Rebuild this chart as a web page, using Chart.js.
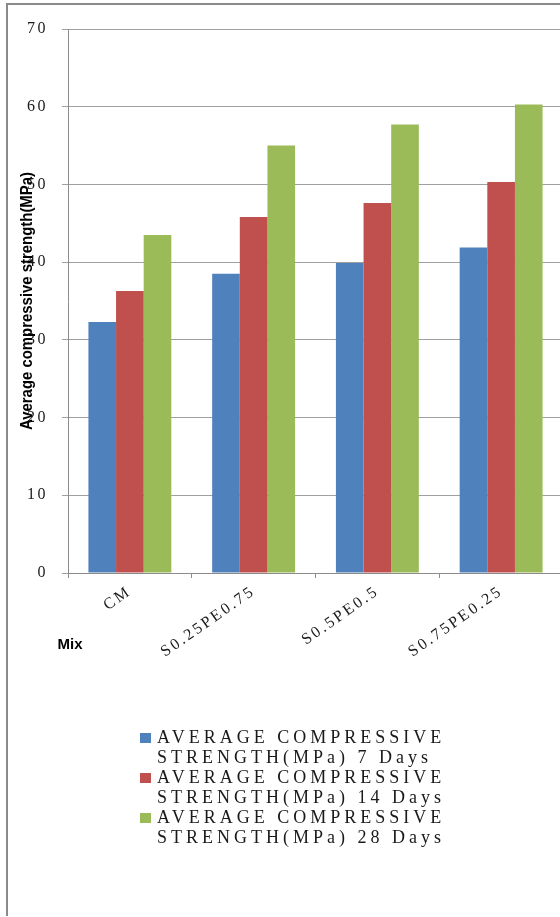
<!DOCTYPE html>
<html>
<head>
<meta charset="utf-8">
<script src="https://cdn.jsdelivr.net/npm/chart.js@4.4.0/dist/chart.umd.min.js"></script>
<style>
  html, body { margin: 0; padding: 0; background: #fff; overflow: hidden; }
  #wrap { width: 560px; height: 917px; overflow: hidden; }
  canvas { display: block; }
</style>
</head>
<body>
<div id="wrap"><canvas id="myChart" width="566" height="917"></canvas></div>
<script>
// Mixes on the x axis
const mixes = ["CM", "S0.25PE0.75", "S0.5PE0.5", "S0.75PE0.25"];

// Average compressive strength (MPa)
const strength7 = [32.3, 38.5, 39.9, 41.9];
const strength14 = [36.3, 45.8, 47.6, 50.3];
const strength28 = [43.5, 55.0, 57.7, 60.3];

const seriesLabels = [
  "AVERAGE COMPRESSIVE STRENGTH(MPa) 7 Days",
  "AVERAGE COMPRESSIVE STRENGTH(MPa) 14 Days",
  "AVERAGE COMPRESSIVE STRENGTH(MPa) 28 Days",
];
const seriesColors = ["#4F81BD", "#C0504D", "#9BBB59"];

const yTitle = "Average compressive strength(MPa)";
const xTitle = "Mix";

const serif = "'Liberation Serif', 'Times New Roman', serif";
const sans = "'Liberation Sans', Arial, sans-serif";

// frame, axis titles and the wrapped legend
const extras = {
  id: "extras",
  beforeUpdate(chart) {
    chart.ctx.letterSpacing = "2.5px";
  },
  beforeDraw(chart) {
    const ctx = chart.ctx;
    ctx.save();
    ctx.fillStyle = "#fff";
    ctx.fillRect(0, 0, chart.width, chart.height);
    ctx.strokeStyle = "#8a8a8a";
    ctx.lineWidth = 2;
    ctx.beginPath();
    ctx.moveTo(7, chart.height - 1);
    ctx.lineTo(7, 4);
    ctx.lineTo(chart.width, 4);
    ctx.stroke();
    ctx.restore();
    ctx.letterSpacing = "2.5px";
  },
  afterDraw(chart) {
    const ctx = chart.ctx;
    const y = chart.scales.y;

    // y axis title (overlaps the tick labels like the original)
    ctx.save();
    ctx.letterSpacing = "0px";
    ctx.fillStyle = "#000";
    ctx.font = "bold 16px " + sans;
    ctx.textAlign = "center";
    ctx.textBaseline = "middle";
    ctx.translate(28, (y.top + y.bottom) / 2);
    ctx.rotate(-Math.PI / 2);
    ctx.fillText(yTitle, 0, 0, 258);
    ctx.restore();

    // x axis title
    ctx.save();
    ctx.letterSpacing = "0px";
    ctx.fillStyle = "#000";
    ctx.font = "bold 15px " + sans;
    ctx.textAlign = "center";
    ctx.textBaseline = "middle";
    ctx.fillText(xTitle, 70, 645);
    ctx.restore();

    // legend, each label wrapped over two lines
    ctx.save();
    ctx.font = "18px " + serif;
    ctx.letterSpacing = "4px";
    ctx.textAlign = "left";
    ctx.textBaseline = "middle";
    chart.data.datasets.forEach((ds, i) => {
      const top = 738 + i * 40;
      ctx.fillStyle = ds.backgroundColor;
      ctx.fillRect(140, top - 5, 11, 10);
      ctx.fillStyle = "#1a1a1a";
      const cut = ds.label.indexOf(" STRENGTH");
      ctx.fillText(ds.label.slice(0, cut), 157, top);
      ctx.fillText(ds.label.slice(cut + 1), 157, top + 20);
    });
    ctx.restore();
  },
};

const ctx = document.getElementById("myChart").getContext("2d");
new Chart(ctx, {
  type: "bar",
  data: {
    labels: mixes,
    datasets: [
      { label: seriesLabels[0], data: strength7, backgroundColor: seriesColors[0] },
      { label: seriesLabels[1], data: strength14, backgroundColor: seriesColors[1] },
      { label: seriesLabels[2], data: strength28, backgroundColor: seriesColors[2] },
    ],
  },
  options: {
    responsive: false,
    animation: false,
    datasets: {
      bar: { categoryPercentage: 0.67, barPercentage: 1.0, borderWidth: 0 },
    },
    layout: {
      padding: { left: 8, top: 29, right: 3, bottom: 254 },
    },
    plugins: {
      legend: { display: false },
      tooltip: { enabled: false },
    },
    scales: {
      x: {
        grid: {
          offset: true,
          drawOnChartArea: false,
          tickLength: 5,
          color: "#8c8c8c",
        },
        border: { color: "#8c8c8c", width: 1 },
        ticks: {
          autoSkip: false,
          minRotation: 35,
          maxRotation: 35,
          padding: 4,
          color: "#1a1a1a",
          font: { family: serif, size: 16 },
        },
        afterFit: (scale) => {
          scale.height = 90;
        },
      },
      y: {
        min: 0,
        max: 70,
        ticks: {
          stepSize: 10,
          padding: 14,
          color: "#1a1a1a",
          font: { family: serif, size: 16 },
        },
        grid: { color: "#a0a0a0", tickLength: 6 },
        border: { color: "#8c8c8c", width: 1 },
        afterFit: (scale) => {
          scale.width = 60;
        },
      },
    },
  },
  plugins: [extras],
});
</script>
</body>
</html>
